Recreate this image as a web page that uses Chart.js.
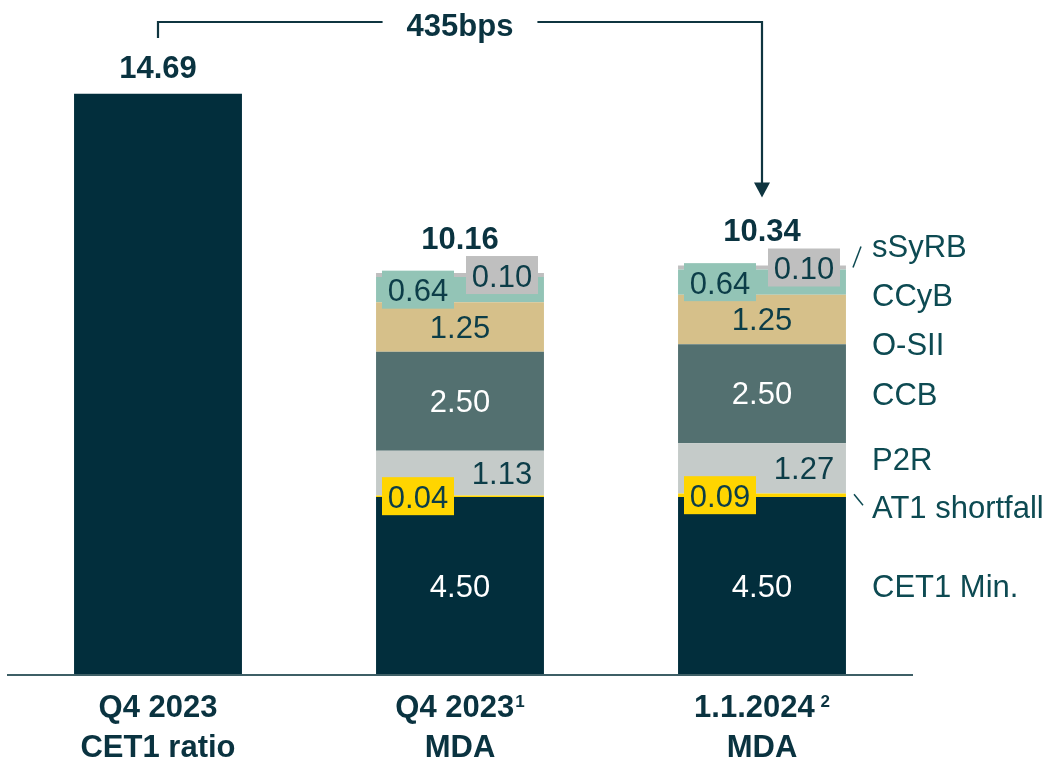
<!DOCTYPE html>
<html>
<head>
<meta charset="utf-8">
<script src="https://cdn.jsdelivr.net/npm/chart.js@4/dist/chart.umd.min.js"></script>
<style>
  html, body { margin: 0; padding: 0; background: #fff; }
  #wrap { width: 1051px; height: 763px; position: relative; }
</style>
</head>
<body>
<div id="wrap"><canvas id="capitalChart"></canvas></div>
<script>
// categories (x axis, two lines + footnote)
const categoryLines = [['Q4 2023', 'CET1 ratio'], ['Q4 2023', 'MDA'], ['1.1.2024', 'MDA']];
const categoryNotes = ['', '1', ' 2'];

// series values (in %)
const cet1Ratio    = [14.69, null, null];
const cet1Min      = [null, 4.50, 4.50];
const at1Shortfall = [null, 0.04, 0.09];
const p2r          = [null, 1.13, 1.27];
const ccb          = [null, 2.50, 2.50];
const osii         = [null, 1.25, 1.25];
const ccyb         = [null, 0.64, 0.64];
const ssyrb        = [null, 0.10, 0.10];
const totals       = [14.69, 10.16, 10.34];
const gapLabel     = '435bps';

const FONT = "'Liberation Sans', Arial, sans-serif";
const DARK = '#022e3c';
const TEXT = '#0c3d48';
const LEGEND = '#0d4a52';

// how each segment is labelled (offsets are style, not data)
const segStyle = {
  'CET1 Min.':     { color: '#ffffff', dx: 0,   legendDy: 0 },
  'AT1 shortfall': { color: TEXT, dx: -42, box: '#ffd500', legendDy: 12, leader: 'down' },
  'P2R':           { color: TEXT, dx: 42,  legendDy: -9 },
  'CCB':           { color: '#ffffff', dx: 0,   legendDy: 1 },
  'O-SII':         { color: TEXT, dx: 0,   legendDy: 25 },
  'CCyB':          { color: TEXT, dx: -42, box: '#93c4b6', legendDy: 13 },
  'sSyRB':         { color: TEXT, dx: 42,  box: '#bfbfbf', legendDy: -21, leader: 'up' }
};

const labelPlugin = {
  id: 'mdaLabels',
  afterDatasetsDraw(chart) {
    const ctx = chart.ctx;
    const area = chart.chartArea;
    ctx.save();

    // axis line
    ctx.strokeStyle = '#3e5f66';
    ctx.lineWidth = 2;
    ctx.beginPath();
    ctx.moveTo(area.left, area.bottom);
    ctx.lineTo(area.right, area.bottom);
    ctx.stroke();

    ctx.textAlign = 'center';
    ctx.textBaseline = 'middle';
    const lastIdx = chart.data.datasets.length - 1;
    const legendX = 872;

    chart.data.datasets.forEach((ds, di) => {
      const st = segStyle[ds.label];
      if (!st) return;
      const meta = chart.getDatasetMeta(di);
      meta.data.forEach((el, i) => {
        const v = ds.data[i];
        if (v == null) return;
        const cy = (el.y + el.base) / 2;
        const cx = el.x + st.dx;
        if (st.box) {
          ctx.fillStyle = st.box;
          ctx.fillRect(cx - 36, cy - 19, 72, 38);
        }
        ctx.fillStyle = st.color;
        ctx.font = '31px ' + FONT;
        ctx.fillText(v.toFixed(2), cx, cy + (st.box ? 3 : 2));
      });
      // legend text on the right, next to the last bar
      const last = meta.data[meta.data.length - 1];
      const ly = (last.y + last.base) / 2 + st.legendDy;
      ctx.fillStyle = LEGEND;
      ctx.font = '31px ' + FONT;
      ctx.textAlign = 'left';
      ctx.fillText(ds.label, legendX, ly + 2);
      ctx.textAlign = 'center';
      if (st.leader) {
        ctx.strokeStyle = LEGEND;
        ctx.lineWidth = 1.5;
        ctx.beginPath();
        if (st.leader === 'up') {
          ctx.moveTo(legendX - 19, ly + 21);
          ctx.lineTo(legendX - 11, ly);
        } else {
          ctx.moveTo(legendX - 18, ly - 13);
          ctx.lineTo(legendX - 9, ly - 2);
        }
        ctx.stroke();
      }
    });

    // totals above each bar
    const totalY = [];
    const topMeta = chart.getDatasetMeta(lastIdx);
    const firstMeta = chart.getDatasetMeta(0);
    totals.forEach((t, i) => {
      let x, y;
      if (cet1Ratio[i] != null) {
        const el = firstMeta.data[i];
        x = el.x; y = el.y - 26;
      } else {
        const el = topMeta.data[i];
        x = el.x; y = (el.y + el.base) / 2 - 19 - 18;
      }
      totalY.push(y);
      ctx.fillStyle = '#0a3340';
      ctx.font = 'bold 31px ' + FONT;
      ctx.fillText(t.toFixed(2), x, y + 2);
    });

    // bracket with arrow from first to last bar
    const x0 = firstMeta.data[0].x;
    const x2 = topMeta.data[2].x;
    const by = 22;
    const tip = totalY[2] - 33;
    ctx.font = 'bold 31px ' + FONT;
    const mid = (x0 + x2) / 2;
    const tw = ctx.measureText(gapLabel).width;
    ctx.strokeStyle = '#0f3540';
    ctx.lineWidth = 2.2;
    ctx.beginPath();
    ctx.moveTo(x0, 38);
    ctx.lineTo(x0, by);
    ctx.lineTo(mid - tw / 2 - 24, by);
    ctx.moveTo(mid + tw / 2 + 24, by);
    ctx.lineTo(x2, by);
    ctx.lineTo(x2, tip - 14);
    ctx.stroke();
    ctx.fillStyle = '#0f3540';
    ctx.beginPath();
    ctx.moveTo(x2 - 8, tip - 15);
    ctx.lineTo(x2 + 8, tip - 15);
    ctx.lineTo(x2, tip);
    ctx.closePath();
    ctx.fill();
    ctx.fillStyle = '#0a3340';
    ctx.fillText(gapLabel, mid, by + 5);

    // category labels under the axis
    const xScale = chart.scales.x;
    categoryLines.forEach((lines, i) => {
      const x = xScale.getPixelForValue(i);
      ctx.fillStyle = '#0a3340';
      ctx.font = 'bold 31px ' + FONT;
      const w1 = ctx.measureText(lines[0]).width;
      ctx.font = 'bold 17px ' + FONT;
      const note = categoryNotes[i];
      const wn = note ? ctx.measureText(note).width + 1 : 0;
      const start = x - (w1 + wn) / 2;
      ctx.font = 'bold 31px ' + FONT;
      ctx.textAlign = 'left';
      ctx.fillText(lines[0], start, area.bottom + 33);
      if (note) {
        ctx.font = 'bold 17px ' + FONT;
        ctx.fillText(note, start + w1 + 1, area.bottom + 27);
      }
      ctx.textAlign = 'center';
      ctx.font = 'bold 31px ' + FONT;
      ctx.fillText(lines[1], x, area.bottom + 73);
    });

    ctx.restore();
  }
};

const ctx = document.getElementById('capitalChart');
const bar = { barPercentage: 0.556, categoryPercentage: 1, borderWidth: 0 };

new Chart(ctx, {
  type: 'bar',
  data: {
    labels: categoryLines.map(l => l.join(' ')),
    datasets: [
      { label: 'CET1 ratio', data: cet1Ratio, backgroundColor: DARK, ...bar },
      { label: 'CET1 Min.', data: cet1Min, backgroundColor: DARK, ...bar },
      { label: 'AT1 shortfall', data: at1Shortfall, backgroundColor: '#ffd500', ...bar },
      { label: 'P2R', data: p2r, backgroundColor: '#c5cbc9', ...bar },
      { label: 'CCB', data: ccb, backgroundColor: '#537070', ...bar },
      { label: 'O-SII', data: osii, backgroundColor: '#d6c08a', ...bar },
      { label: 'CCyB', data: ccyb, backgroundColor: '#93c4b6', ...bar },
      { label: 'sSyRB', data: ssyrb, backgroundColor: '#bfbfbf', ...bar }
    ]
  },
  options: {
    responsive: true,
    maintainAspectRatio: false,
    animation: false,
    layout: { padding: { top: 42, bottom: 88, left: 7, right: 138 } },
    plugins: {
      legend: { display: false },
      tooltip: { enabled: false },
      title: { display: false }
    },
    scales: {
      x: { stacked: true, display: false },
      y: { stacked: true, display: false, min: 0, max: 16 }
    }
  },
  plugins: [labelPlugin]
});
</script>
</body>
</html>
